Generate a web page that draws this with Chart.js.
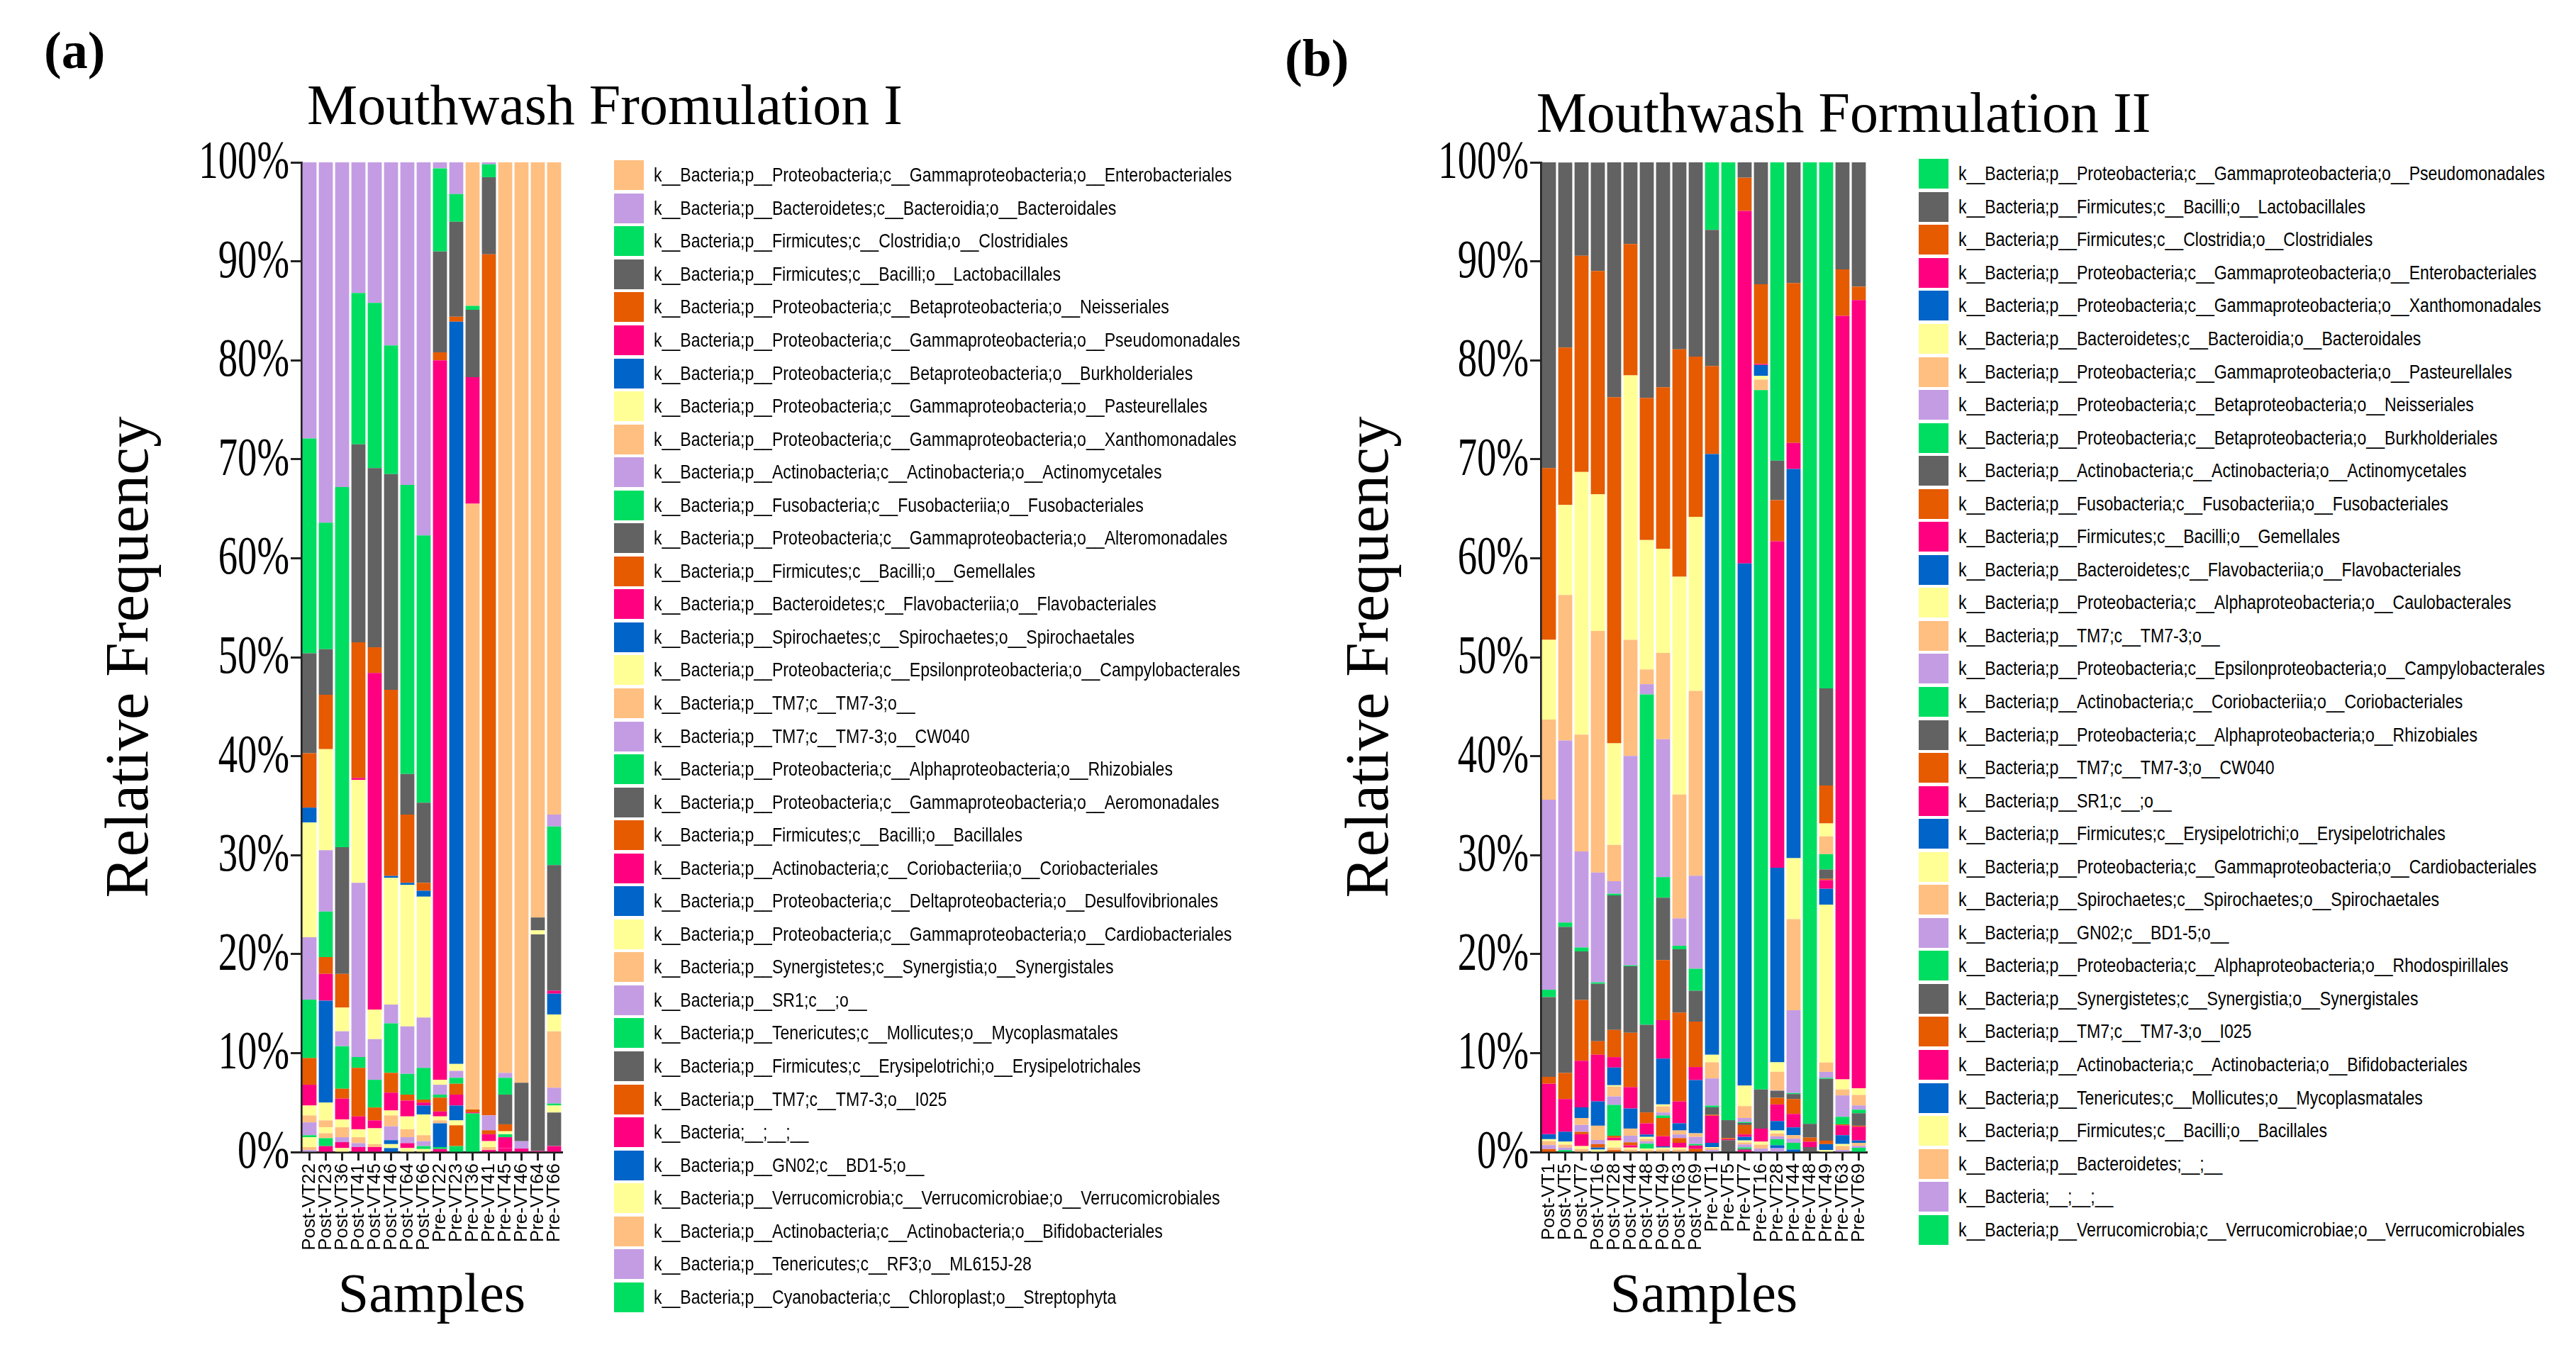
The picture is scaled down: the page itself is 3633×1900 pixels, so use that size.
<!DOCTYPE html>
<html><head><meta charset="utf-8">
<script src="https://cdn.jsdelivr.net/npm/chart.js@4.4.1/dist/chart.umd.min.js"></script>
<style>
html,body{margin:0;padding:0;background:#fff;}
#page{position:relative;width:3633px;height:1900px;overflow:hidden;background:#fff;}
canvas{position:absolute;top:0;}
.ttl{position:absolute;font-family:'Liberation Serif','Times New Roman',serif;font-size:80px;line-height:1;white-space:nowrap;transform:translateX(-50%);color:#000;}
.lbl{position:absolute;font-family:'Liberation Serif','Times New Roman',serif;font-weight:bold;font-size:74px;line-height:1;color:#000;}
.legend{position:absolute;}
.row{display:flex;align-items:center;height:46.55px;}
.sw{width:42px;height:42px;flex:none;}
.tx{display:inline-block;font-family:'Liberation Sans','Arial',sans-serif;font-size:28px;margin-left:14px;white-space:nowrap;color:#000;transform:scaleX(0.825);transform-origin:0 50%;}
</style></head>
<body><div id="page">
<div class="lbl" style="left:62px;top:34px;">(a)</div>
<div class="lbl" style="left:1812px;top:45px;">(b)</div>
<div class="ttl" style="left:853px;top:108px;">Mouthwash Fromulation I</div>
<div class="ttl" style="left:2600px;top:119px;">Mouthwash Formulation II</div>
<canvas id="chartA" width="850" height="1900" style="left:0px;width:850px;height:1900px;"></canvas>
<canvas id="chartB" width="900" height="1900" style="left:1760px;width:900px;height:1900px;"></canvas>
<div class="legend" id="legA" style="left:866px;top:224px;"></div>
<div class="legend" id="legB" style="left:2706px;top:222px;"></div>
</div>
<script>
const palette = ['#FFBF80','#C49CE3','#00DE62','#626262','#E65A00','#FF0080','#0064C8','#FFFF96'];

// ---------- Panel (a) ----------
const samplesA = ['Post-VT22','Post-VT23','Post-VT36','Post-VT41','Post-VT45','Post-VT46','Post-VT64','Post-VT66',
                  'Pre-VT22','Pre-VT23','Pre-VT36','Pre-VT41','Pre-VT45','Pre-VT46','Pre-VT64','Pre-VT66'];
const taxaA = [
 'k__Bacteria;p__Proteobacteria;c__Gammaproteobacteria;o__Enterobacteriales',
 'k__Bacteria;p__Bacteroidetes;c__Bacteroidia;o__Bacteroidales',
 'k__Bacteria;p__Firmicutes;c__Clostridia;o__Clostridiales',
 'k__Bacteria;p__Firmicutes;c__Bacilli;o__Lactobacillales',
 'k__Bacteria;p__Proteobacteria;c__Betaproteobacteria;o__Neisseriales',
 'k__Bacteria;p__Proteobacteria;c__Gammaproteobacteria;o__Pseudomonadales',
 'k__Bacteria;p__Proteobacteria;c__Betaproteobacteria;o__Burkholderiales',
 'k__Bacteria;p__Proteobacteria;c__Gammaproteobacteria;o__Pasteurellales',
 'k__Bacteria;p__Proteobacteria;c__Gammaproteobacteria;o__Xanthomonadales',
 'k__Bacteria;p__Actinobacteria;c__Actinobacteria;o__Actinomycetales',
 'k__Bacteria;p__Fusobacteria;c__Fusobacteriia;o__Fusobacteriales',
 'k__Bacteria;p__Proteobacteria;c__Gammaproteobacteria;o__Alteromonadales',
 'k__Bacteria;p__Firmicutes;c__Bacilli;o__Gemellales',
 'k__Bacteria;p__Bacteroidetes;c__Flavobacteriia;o__Flavobacteriales',
 'k__Bacteria;p__Spirochaetes;c__Spirochaetes;o__Spirochaetales',
 'k__Bacteria;p__Proteobacteria;c__Epsilonproteobacteria;o__Campylobacterales',
 'k__Bacteria;p__TM7;c__TM7-3;o__',
 'k__Bacteria;p__TM7;c__TM7-3;o__CW040',
 'k__Bacteria;p__Proteobacteria;c__Alphaproteobacteria;o__Rhizobiales',
 'k__Bacteria;p__Proteobacteria;c__Gammaproteobacteria;o__Aeromonadales',
 'k__Bacteria;p__Firmicutes;c__Bacilli;o__Bacillales',
 'k__Bacteria;p__Actinobacteria;c__Coriobacteriia;o__Coriobacteriales',
 'k__Bacteria;p__Proteobacteria;c__Deltaproteobacteria;o__Desulfovibrionales',
 'k__Bacteria;p__Proteobacteria;c__Gammaproteobacteria;o__Cardiobacteriales',
 'k__Bacteria;p__Synergistetes;c__Synergistia;o__Synergistales',
 'k__Bacteria;p__SR1;c__;o__',
 'k__Bacteria;p__Tenericutes;c__Mollicutes;o__Mycoplasmatales',
 'k__Bacteria;p__Firmicutes;c__Erysipelotrichi;o__Erysipelotrichales',
 'k__Bacteria;p__TM7;c__TM7-3;o__I025',
 'k__Bacteria;__;__;__',
 'k__Bacteria;p__GN02;c__BD1-5;o__',
 'k__Bacteria;p__Verrucomicrobia;c__Verrucomicrobiae;o__Verrucomicrobiales',
 'k__Bacteria;p__Actinobacteria;c__Actinobacteria;o__Bifidobacteriales',
 'k__Bacteria;p__Tenericutes;c__RF3;o__ML615J-28',
 'k__Bacteria;p__Cyanobacteria;c__Chloroplast;o__Streptophyta'
];
// values per sample, in taxaA order (percent)
const postVT22a = [0,27.9,21.7,10.1,5.5,0,1.5,11.6,0,6.3,5.9,0,2.7,2.1,0,1.0,0.7,1.3,0.2,0,0,0,0,1.0,0.3,0.2,0,0,0,0,0,0,0,0,0];
const postVT23a = [0,36.4,12.8,4.6,5.5,0,0,10.2,0,6.2,4.6,0,1.7,2.7,10.3,1.8,0.7,0,0,0,0,0,0,0.6,0.5,0,0.8,0,0,0.6,0,0,0,0,0];
const postVT36a = [0,32.8,36.4,12.8,3.4,0,0,2.4,0,1.5,4.3,0,1.0,2.1,0,0.8,1.0,0.5,0,0,0,0.6,0,0.4,0,0,0,0,0,0,0,0,0,0,0];
const postVT41a = [0,13.2,15.3,20.0,13.7,0.2,0,10.4,0,17.6,1.1,0,4.9,1.3,0,0.8,0.6,0.4,0,0,0,0.5,0,0,0,0,0,0,0,0,0,0,0,0,0];
const postVT45a = [0,14.2,16.7,18.1,2.6,34.0,0,3.0,0,4.1,2.8,0,1.3,0.8,0,1.6,0.3,0,0,0,0,0.5,0,0,0,0,0,0,0,0,0,0,0,0,0];
const postVT46a = [0,18.5,13.0,21.8,18.8,0,0.2,12.8,0,1.9,5.0,0,2.0,1.8,0,0.5,1.1,1.4,0,0,0,0,0.4,0.4,0,0,0,0,0,0,0.4,0,0,0,0];
const postVT64a = [0,32.6,29.2,4.1,6.9,0,0.2,14.3,0,4.8,2.1,0,0.6,1.6,0,1.3,0.8,0.6,0,0,0,0.5,0,0.4,0,0,0,0,0,0,0,0,0,0,0];
const postVT66a = [0,37.7,27.0,8.1,0.8,0,0.6,12.2,0,5.1,3.2,0,0.3,0.3,0.9,2.1,0.6,0.5,0.3,0,0,0,0,0.3,0,0,0,0,0,0,0,0,0,0,0];
const preVT22a  = [0,0.6,8.4,10.2,0.8,72.7,0,0.5,0,1.0,0.3,0,1.4,0.5,0,0.4,0.3,0,0,0,0,0,2.4,0,0,0,0.2,0,0,0.3,0,0,0,0,0];
const preVT23a  = [0,3.2,2.8,9.6,0.5,0,75.0,0.7,0,0.7,0.6,0,1.1,1.1,1.5,0.5,0,0,0,0,2.1,0,0,0,0,0,0.6,0,0,0,0,0,0,0,0];
const preVT36a  = [14.5,0,0.4,6.8,0,12.8,0,0,61.2,0,0,0,0.3,0.1,0,0,0,0,0,0,0,0,0,0,0,0,3.9,0,0,0,0,0,0,0,0];
const preVT41a  = [0,0.2,1.3,7.8,87.0,0,0,0,0,1.5,0,0,0.4,0.7,0,0.6,0.3,0,0,0,0,0,0,0,0,0,0,0,0,0.2,0,0,0,0,0];
const preVT45a  = [92.0,0.5,1.7,3.0,0.7,0,0,0.3,0,0,0.3,0,0,1.1,0,0,0,0,0,0,0,0,0,0,0,0,0,0,0,0.4,0,0,0,0,0];
const preVT46a  = [93.0,0,0,5.9,0,0,0,0,0,0.75,0,0,0,0.35,0,0,0,0,0,0,0,0,0,0,0,0,0,0,0,0,0,0,0,0,0];
const preVT64a  = [76.3,0,0,1.3,0,0,0,0.4,0,0,0,21.9,0,0.1,0,0,0,0,0,0,0,0,0,0,0,0,0,0,0,0,0,0,0,0,0];
const preVT66a  = [65.9,1.2,3.9,12.7,0,0.3,2.1,1.7,5.7,1.6,0.2,0,0,0,0,0.7,0,0,0,3.4,0,0,0,0,0,0,0,0,0,0.6,0,0,0,0,0];
const columnsA = [postVT22a,postVT23a,postVT36a,postVT41a,postVT45a,postVT46a,postVT64a,postVT66a,
                  preVT22a,preVT23a,preVT36a,preVT41a,preVT45a,preVT46a,preVT64a,preVT66a];

// ---------- Panel (b) ----------
const samplesB = ['Post-VT1','Post-VT5','Post-VT7','Post-VT16','Post-VT28','Post-VT44','Post-VT48','Post-VT49','Post-VT63','Post-VT69',
                  'Pre-VT1','Pre-VT5','Pre-VT7','Pre-VT16','Pre-VT28','Pre-VT44','Pre-VT48','Pre-VT49','Pre-VT63','Pre-VT69'];
const taxaB = [
 'k__Bacteria;p__Proteobacteria;c__Gammaproteobacteria;o__Pseudomonadales',
 'k__Bacteria;p__Firmicutes;c__Bacilli;o__Lactobacillales',
 'k__Bacteria;p__Firmicutes;c__Clostridia;o__Clostridiales',
 'k__Bacteria;p__Proteobacteria;c__Gammaproteobacteria;o__Enterobacteriales',
 'k__Bacteria;p__Proteobacteria;c__Gammaproteobacteria;o__Xanthomonadales',
 'k__Bacteria;p__Bacteroidetes;c__Bacteroidia;o__Bacteroidales',
 'k__Bacteria;p__Proteobacteria;c__Gammaproteobacteria;o__Pasteurellales',
 'k__Bacteria;p__Proteobacteria;c__Betaproteobacteria;o__Neisseriales',
 'k__Bacteria;p__Proteobacteria;c__Betaproteobacteria;o__Burkholderiales',
 'k__Bacteria;p__Actinobacteria;c__Actinobacteria;o__Actinomycetales',
 'k__Bacteria;p__Fusobacteria;c__Fusobacteriia;o__Fusobacteriales',
 'k__Bacteria;p__Firmicutes;c__Bacilli;o__Gemellales',
 'k__Bacteria;p__Bacteroidetes;c__Flavobacteriia;o__Flavobacteriales',
 'k__Bacteria;p__Proteobacteria;c__Alphaproteobacteria;o__Caulobacterales',
 'k__Bacteria;p__TM7;c__TM7-3;o__',
 'k__Bacteria;p__Proteobacteria;c__Epsilonproteobacteria;o__Campylobacterales',
 'k__Bacteria;p__Actinobacteria;c__Coriobacteriia;o__Coriobacteriales',
 'k__Bacteria;p__Proteobacteria;c__Alphaproteobacteria;o__Rhizobiales',
 'k__Bacteria;p__TM7;c__TM7-3;o__CW040',
 'k__Bacteria;p__SR1;c__;o__',
 'k__Bacteria;p__Firmicutes;c__Erysipelotrichi;o__Erysipelotrichales',
 'k__Bacteria;p__Proteobacteria;c__Gammaproteobacteria;o__Cardiobacteriales',
 'k__Bacteria;p__Spirochaetes;c__Spirochaetes;o__Spirochaetales',
 'k__Bacteria;p__GN02;c__BD1-5;o__',
 'k__Bacteria;p__Proteobacteria;c__Alphaproteobacteria;o__Rhodospirillales',
 'k__Bacteria;p__Synergistetes;c__Synergistia;o__Synergistales',
 'k__Bacteria;p__TM7;c__TM7-3;o__I025',
 'k__Bacteria;p__Actinobacteria;c__Actinobacteria;o__Bifidobacteriales',
 'k__Bacteria;p__Tenericutes;c__Mollicutes;o__Mycoplasmatales',
 'k__Bacteria;p__Firmicutes;c__Bacilli;o__Bacillales',
 'k__Bacteria;p__Bacteroidetes;__;__',
 'k__Bacteria;__;__;__',
 'k__Bacteria;p__Verrucomicrobia;c__Verrucomicrobiae;o__Verrucomicrobiales'
];
const postVT1b  = [0,30.9,17.35,0,0,8.05,8.1,19.2,0.75,8.05,0.7,5.1,0.5,0.2,0.4,0.4,0,0,0.3,0,0,0,0,0,0,0,0,0,0,0,0,0,0];
const postVT5b  = [0,18.7,15.9,0,0,9.1,14.7,18.4,0.45,14.75,2.64,3.3,1.0,0.3,0.3,0.25,0.2,0,0,0,0,0,0,0,0,0,0,0,0,0,0,0,0];
const postVT7b  = [0,9.43,21.85,0,0,26.55,11.8,9.7,0.4,4.9,6.15,4.7,1.08,0,0.7,0.7,0,0,0.24,1.2,0,0.3,0.3,0,0,0,0,0,0,0,0,0,0];
const postVT16b = [0,10.96,22.58,0,0,13.8,24.4,11.1,0.15,5.8,1.37,4.71,2.46,0,1.44,0.42,0,0,0.35,0,0.2,0.25,0,0,0,0,0,0,0,0,0,0,0];
const postVT28b = [0,23.73,34.97,0,0,10.27,3.66,1.27,0.17,13.59,2.75,1.05,1.79,0.13,1.0,0.86,3.11,0,0.2,0.28,0,0.72,0.25,0,0,0,0.2,0,0,0,0,0,0];
const postVT44b = [0,8.25,13.28,0,0,26.72,11.73,21.16,0.1,6.7,5.5,2.16,2.03,0,0.72,0.67,0,0,0.3,0.23,0,0.2,0.25,0,0,0,0,0,0,0,0,0,0];
const postVT48b = [0,23.8,14.36,0,0,13.08,1.49,1.03,33.39,8.85,1.1,1.13,0.24,0.2,0.25,0.24,0.48,0,0,0,0,0.16,0.2,0,0,0,0,0,0,0,0,0,0];
const postVT49b = [0,22.73,16.31,0,0,10.53,8.73,13.92,2.08,6.3,6.07,3.9,4.62,0.2,0.61,0.3,0.26,0,1.84,1.03,0.12,0.2,0.25,0,0,0,0,0,0,0,0,0,0];
const postVT63b = [0,18.9,22.97,0,0,22.01,12.51,2.77,0.36,6.39,8.97,2.22,0.72,0,0.4,0.37,0,0,0.48,0.48,0,0.2,0.25,0,0,0,0,0,0,0,0,0,0];
const postVT69b = [0,19.62,16.19,0,0,17.59,18.68,9.4,2.23,3.11,4.59,1.32,5.38,0,0.36,0.72,0.15,0,0,0.35,0,0,0,0,0,0,0.31,0,0,0,0,0,0];
const preVT1b   = [6.82,13.75,8.9,0,60.7,0.76,1.63,2.75,0.17,0.76,0.1,2.73,0.43,0.1,0.2,0.2,0,0,0,0,0,0,0,0,0,0,0,0,0,0,0,0,0];
const preVT5b   = [96.78,1.8,0.12,0.1,0,0,0,0,0,1.2,0,0,0,0,0,0,0,0,0,0,0,0,0,0,0,0,0,0,0,0,0,0,0];
const preVT7b   = [0,1.55,3.35,35.63,52.75,2.08,1.2,0.4,0.1,0.21,0.95,0.25,0.36,0.2,0.2,0.3,0.15,0.12,0,0.2,0,0,0,0,0,0,0,0,0,0,0,0,0];
const preVT16b  = [0,12.32,8.06,0.1,1.1,0.37,1.07,0,70.66,3.95,0,1.32,0,0.3,0.4,0.35,0,0,0,0,0,0,0,0,0,0,0,0,0,0,0,0,0];
const preVT28b  = [30.14,4.0,4.14,32.99,19.66,0.96,1.87,0.05,0,0.71,0.67,1.68,0.95,0.3,0.3,0.29,0.6,0,0,0,0.3,0,0,0.39,0,0,0,0,0,0,0,0,0];
const preVT44b  = [0,12.2,16.15,2.63,39.33,6.15,9.21,8.37,0.1,0.5,1.51,1.36,0.79,0,0.35,0.42,0.67,0,0,0,0.26,0,0,0,0,0,0,0,0,0,0,0,0];
const preVT48b  = [97.15,1.39,0.41,0.55,0,0,0,0,0,0.5,0,0,0,0,0,0,0,0,0,0,0,0,0,0,0,0,0,0,0,0,0,0,0];
const preVT49b  = [53.16,9.81,3.83,0,0,1.3,1.8,0,1.55,0.95,0.12,0.88,1.6,15.95,0.95,0.6,0.1,6.25,0.35,0,0.6,0.2,0,0,0,0,0,0,0,0,0,0,0];
const preVT63b  = [0,10.81,4.69,77.16,0,1.02,0.6,2.16,0.76,0,0.1,1.0,0.89,0.2,0.4,0.21,0,0,0,0,0,0,0,0,0,0,0,0,0,0,0,0,0];
const preVT69b  = [0,12.56,1.36,79.64,0,0.67,1.06,0.43,0.36,1.26,0.1,1.39,0.24,0,0.3,0.2,0.43,0,0,0,0,0,0,0,0,0,0,0,0,0,0,0,0];
const columnsB = [postVT1b,postVT5b,postVT7b,postVT16b,postVT28b,postVT44b,postVT48b,postVT49b,postVT63b,postVT69b,
                  preVT1b,preVT5b,preVT7b,preVT16b,preVT28b,preVT44b,preVT48b,preVT49b,preVT63b,preVT69b];

const yTicks = [0,10,20,30,40,50,60,70,80,90,100];

function colorOf(i, offset){ return palette[(i + offset) % 8]; }

function buildDatasets(taxa, cols, offset){
  const ds = [];
  // first legend entry sits on top of each bar, so stack from the last one upward
  for (let i = taxa.length - 1; i >= 0; i--) {
    ds.push({
      label: taxa[i],
      data: cols.map(c => c[i]),
      backgroundColor: colorOf(i, offset),
      borderWidth: 0,
      barPercentage: 0.86,
      categoryPercentage: 1.0
    });
  }
  return ds;
}

function buildLegend(el, taxa, offset){
  taxa.forEach((t, i) => {
    const r = document.createElement('div'); r.className = 'row';
    const s = document.createElement('div'); s.className = 'sw'; s.style.background = colorOf(i, offset);
    const x = document.createElement('div'); x.className = 'tx'; x.textContent = t;
    r.appendChild(s); r.appendChild(x); el.appendChild(r);
  });
}

// y tick labels drawn horizontally condensed, as in the reference figure
const condensedYTicks = {
  id: 'condensedYTicks',
  afterDraw(chart) {
    const s = chart.scales.y, ctx = chart.ctx;
    ctx.save();
    ctx.font = '76px "Liberation Serif"';
    ctx.fillStyle = '#000'; ctx.textAlign = 'right'; ctx.textBaseline = 'middle';
    s.ticks.forEach(t => {
      const y = s.getPixelForValue(t.value);
      ctx.save(); ctx.translate(s.right - 17, y + 2); ctx.scale(0.72, 1);
      ctx.fillText(t.value + '%', 0, 0);
      ctx.restore();
    });
    ctx.restore();
  }
};

function makeChart(id, samples, taxa, cols, offset, yWidth, rightPad, yTitlePad){
  const axisColor = '#222';
  return new Chart(document.getElementById(id), {
    type: 'bar',
    data: { labels: samples, datasets: buildDatasets(taxa, cols, offset) },
    plugins: [condensedYTicks],
    options: {
      responsive: false, animation: false, devicePixelRatio: 1,
      layout: { padding: { left: 0, right: rightPad, top: 229, bottom: 0 } },
      plugins: { legend: { display: false }, tooltip: { enabled: false }, title: { display: false } },
      scales: {
        x: {
          stacked: true, offset: true,
          grid: { display: true, drawOnChartArea: false, drawTicks: true, tickLength: 12, tickWidth: 3, tickColor: axisColor, offset: false },
          border: { display: true, color: axisColor, width: 3 },
          ticks: { autoSkip: false, maxRotation: 90, minRotation: 90, padding: 4, color: '#000',
                   font: { family: 'Liberation Sans', size: 26 } },
          title: { display: true, text: 'Samples', color: '#000',
                   font: { family: 'Liberation Serif', size: 78 }, padding: { top: 0, bottom: 24 } },
          afterFit: (s) => { s.height = 275; }
        },
        y: {
          stacked: true, min: 0, max: 100,
          afterBuildTicks: (s) => { s.ticks = yTicks.map(v => ({ value: v })); },
          ticks: { display: false },
          grid: { display: true, drawOnChartArea: false, tickLength: 15, tickWidth: 3, tickColor: axisColor },
          border: { display: true, color: axisColor, width: 3 },
          title: { display: true, text: 'Relative Frequency', color: '#000',
                   font: { family: 'Liberation Serif', size: 87 }, padding: { top: yTitlePad, bottom: 0 } },
          afterFit: (s) => { s.width = yWidth; }
        }
      }
    }
  });
}

buildLegend(document.getElementById('legA'), taxaA, 0);
buildLegend(document.getElementById('legB'), taxaB, 2);
makeChart('chartA', samplesA, taxaA, columnsA, 0, 425, 57, 133);
makeChart('chartB', samplesB, taxaB, columnsB, 2, 413, 27, 122);
</script>
</body></html>
